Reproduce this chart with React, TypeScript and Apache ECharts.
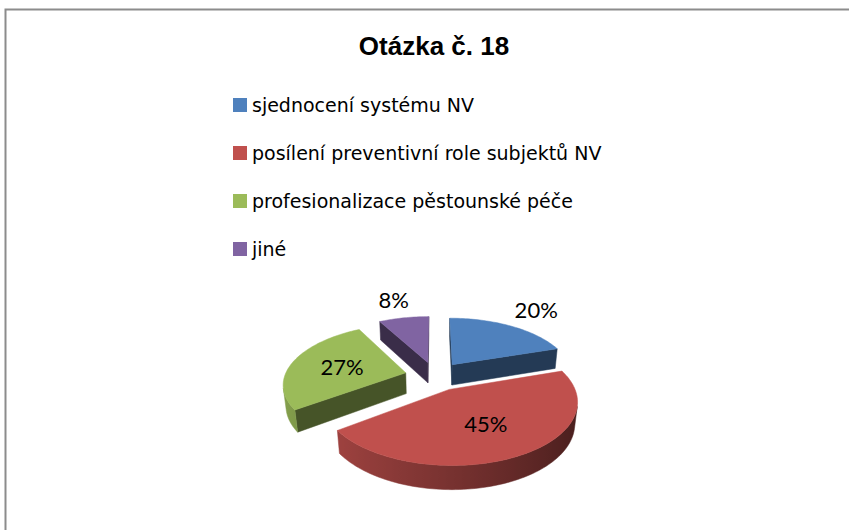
import React, { useEffect, useRef } from "react";
import * as echarts from "echarts";

// ---- data ----
const chartTitle = "Otázka č. 18";
const categories = [
  "sjednocení systému NV",
  "posílení preventivní role subjektů NV",
  "profesionalizace pěstounské péče",
  "jiné",
];
const values = [20, 45, 27, 8];
const colors = ["#4F81BD", "#C0504D", "#9BBB59", "#8064A2"];

// ---- 3D view geometry (styles / layout) ----
const CX = 435;
const CY = 376;
const SCALE = 121;
const ELEV = (28.6 * Math.PI) / 180;
const PERSP = 0.194;
const EXPLODE = 0.25;
const THICK = 0.2;
const RADIAL_SHADE = 0.45;
const LABEL_INSIDE_MIN = 25; // percent
const LABEL_R_IN = 0.56;
const LABEL_R_OUT = 1.52;

const total = values.reduce((a, b) => a + b, 0);

function shade(hex: string, f: number) {
  const n = parseInt(hex.slice(1), 16);
  const r = Math.round(((n >> 16) & 255) * f);
  const g = Math.round(((n >> 8) & 255) * f);
  const b = Math.round((n & 255) * f);
  return `rgb(${Math.min(255, r)},${Math.min(255, g)},${Math.min(255, b)})`;
}

function project(x: number, y: number, z: number) {
  const df = 1 + PERSP * (z * Math.cos(ELEV) - y * Math.sin(ELEV));
  return [CX + (SCALE * x) / df, CY - (SCALE * (y * Math.cos(ELEV) + z * Math.sin(ELEV))) / df];
}

function sliceGeom(i: number) {
  const before = values.slice(0, i).reduce((a, b) => a + b, 0);
  const start = (before / total) * Math.PI * 2;
  const end = start + (values[i] / total) * Math.PI * 2;
  const mid = (start + end) / 2;
  return { start, end, mid, ox: EXPLODE * Math.sin(mid), oz: EXPLODE * Math.cos(mid) };
}

const cam = [0, Math.sin(ELEV) / PERSP, -Math.cos(ELEV) / PERSP];
const wallShade = (th: number) => 0.62 - 0.25 * Math.sin(th);

function renderSlice(i: number) {
  const g = sliceGeom(i);
  const color = colors[i];
  const pt = (th: number, r: number, y: number) =>
    project(g.ox + r * Math.sin(th), y, g.oz + r * Math.cos(th));
  const visible = (nx: number, nz: number, px: number, pz: number) =>
    nx * (cam[0] - px) + nz * (cam[2] - pz) > 0;
  const children: any[] = [];

  // radial faces
  const radials: [number, number][] = [
    [g.start, -1],
    [g.end, 1],
  ];
  for (const [th, sign] of radials) {
    const na = th + (sign * Math.PI) / 2;
    if (visible(Math.sin(na), Math.cos(na), g.ox, g.oz)) {
      const c = shade(color, RADIAL_SHADE);
      children.push({
        type: "polygon",
        shape: { points: [pt(th, 0, 0), pt(th, 1, 0), pt(th, 1, -THICK), pt(th, 0, -THICK)] },
        style: { fill: c, stroke: c, lineWidth: 0.5 },
      });
    }
  }

  // outer wall: contiguous visible runs, each one polygon with a gradient
  const steps = Math.max(2, Math.ceil((g.end - g.start) / (Math.PI / 120)));
  const dth = (g.end - g.start) / steps;
  const runs: number[][] = [];
  let cur: number[] | null = null;
  for (let k = 0; k < steps; k++) {
    const tm = g.start + (k + 0.5) * dth;
    const vis = visible(Math.sin(tm), Math.cos(tm), g.ox + Math.sin(tm), g.oz + Math.cos(tm));
    if (vis) {
      if (!cur) {
        cur = [k, k];
        runs.push(cur);
      }
      cur[1] = k;
    } else cur = null;
  }
  for (const [k0, k1] of runs) {
    const topArc: number[][] = [];
    const botArc: number[][] = [];
    const angs: number[] = [];
    for (let k = k0; k <= k1 + 1; k++) {
      const th = g.start + k * dth;
      angs.push(th);
      topArc.push(pt(th, 1, 0));
      botArc.push(pt(th, 1, -THICK));
    }
    const xs = topArc.map((p) => p[0]);
    const minX = Math.min(...xs);
    const maxX = Math.max(...xs);
    const stops = angs
      .map((th, j) => ({ offset: (xs[j] - minX) / Math.max(1, maxX - minX), color: shade(color, wallShade(th)) }))
      .sort((a, b) => a.offset - b.offset);
    const fill = {
      type: "linear",
      x: minX,
      y: 0,
      x2: maxX,
      y2: 0,
      global: true,
      colorStops: stops,
    };
    children.push({
      type: "polygon",
      shape: { points: topArc.concat(botArc.reverse()) },
      style: { fill, stroke: fill, lineWidth: 0.5 },
    });
  }

  // top face
  const topPts: number[][] = [pt(0, 0, 0)];
  for (let k = 0; k <= steps; k++) topPts.push(pt(g.start + k * dth, 1, 0));
  children.push({
    type: "polygon",
    shape: { points: topPts },
    style: { fill: color, stroke: color, lineWidth: 0.5 },
  });

  // label
  const pct = Math.round((values[i] / total) * 100);
  const lr = pct >= LABEL_INSIDE_MIN ? LABEL_R_IN : LABEL_R_OUT;
  const lp = pt(g.mid, lr, 0);
  children.push({
    type: "text",
    x: lp[0],
    y: lp[1],
    style: {
      text: pct + "%",
      fill: "#000",
      fontSize: 22,
      fontFamily: "Lato",
      align: "center",
      verticalAlign: "middle",
    },
  });

  return { type: "group", children };
}

// back-to-front draw order
const drawRank = (() => {
  const idx = values.map((_, i) => i);
  idx.sort((a, b) => Math.cos(sliceGeom(b).mid) - Math.cos(sliceGeom(a).mid));
  const rank: number[] = [];
  idx.forEach((v, r) => (rank[v] = r));
  return rank;
})();

export default function App() {
  const ref = useRef<HTMLDivElement>(null);
  useEffect(() => {
    if (!ref.current) return;
    const chart = echarts.init(ref.current, null, { renderer: "svg" });
    chart.setOption({
      animation: false,
      backgroundColor: "#fff",
      title: {
        text: chartTitle,
        left: 434,
        top: 33,
        padding: 0,
        textAlign: "center",
        textStyle: {
          fontFamily: "Liberation Sans",
          fontWeight: "bold",
          fontSize: 26,
          color: "#000",
        },
      },
      legend: {
        orient: "vertical",
        left: 233,
        top: 95,
        padding: 0,
        itemWidth: 14,
        itemHeight: 14,
        itemGap: 28,
        icon: "rect",
        data: categories,
        textStyle: {
          fontFamily: "DejaVu Sans",
          fontSize: 19,
          lineHeight: 20,
          color: "#000",
        },
      },
      graphic: [
        {
          type: "rect",
          silent: true,
          shape: { x: 5.5, y: 9.5, width: 1000, height: 1000 },
          style: { fill: "none", stroke: "#8c8c8c", lineWidth: 2 },
        },
      ],
      series: categories.map((name, i) => ({
        type: "custom",
        name,
        coordinateSystem: "none",
        z: 2 + drawRank[i],
        itemStyle: { color: colors[i] },
        data: [values[i]],
        renderItem: () => renderSlice(i),
      })),
    });
    return () => chart.dispose();
  }, []);
  return (
    <div
      ref={ref}
      style={{ position: "absolute", left: 0, top: 0, width: 849, height: 530, background: "#fff" }}
    />
  );
}
